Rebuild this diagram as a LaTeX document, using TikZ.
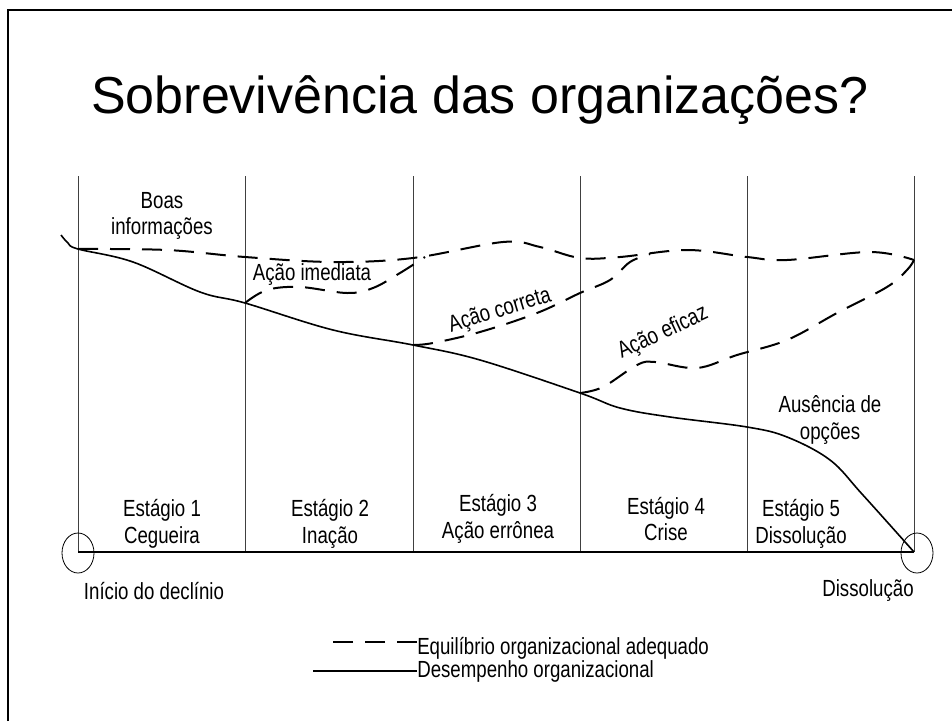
\documentclass[tikz,border=0pt]{standalone}
\usepackage{fontspec}
\setmainfont{Liberation Sans}
\newfontfamily\narrowsans[FakeStretch=0.8]{Liberation Sans}
\usepackage{tikz}
\usetikzlibrary{positioning}
\usetikzlibrary{shapes.geometric}
\usepackage{xcolor}

\begin{document}
\begin{tikzpicture}[x=0.75pt, y=-0.75pt,
    equil/.style={black, line width=1.5pt, dash pattern=on 15pt off 9pt},
    desemp/.style={black, line width=1.2pt},
    rotulo/.style={font=\narrowsans\fontsize{17.5}{20}\selectfont, align=center, inner sep=0pt},
    marco/.style={draw, ellipse, line width=0.6pt, minimum width=24pt, minimum height=30pt, inner sep=0pt}]
	\useasboundingbox (0,0) rectangle (952,721);
	\draw[black, line width=1.5pt] (8,721)--(8,10)--(952,10);
	\node (titulo) at (480,100) {\fontsize{39}{47}\selectfont Sobrevivência das organizações?};
	% estagios
	\foreach \x in {78,245,413,580,747,914}
		\draw[black!75, line width=0.6pt] (\x,176)--(\x,552);
	\node[marco] (inicio) at (78,553) {};
	\node[marco] (fim) at (917,553) {};
	\draw[black, line width=1pt] (78,552)--(914,552);
	\node[rotulo] (e1) at (162,524) {Estágio 1\\Cegueira};
	\node[rotulo] (e2) at (330,524) {Estágio 2\\Inação};
	\node[rotulo] (e3) at (498,519) {Estágio 3\\Ação errônea};
	\node[rotulo] (e4) at (666,519) {Estágio 4\\Crise};
	\node[rotulo] (e5) at (801,524) {Estágio 5\\Dissolução};
	\node[rotulo] (declinio) at (154,591) {Início do declínio};
	\node[rotulo] (dissol) at (868,591) {Dissolução};
	% desempenho
	\draw[desemp] plot[smooth, tension=0.6] coordinates {(61,235) (68,243) (78,249) (133,262) (200,292) (245,303) (333,330) (413,345) (480,360) (580,393) (620,408) (670,417) (747,427) (787,437) (830,460) (862,494) (914,552)};
	\coordinate (p2) at (245,303);
	\coordinate (p3) at (413,345);
	\coordinate (p4) at (580,393);
	% equilibrio
	\draw[equil] plot[smooth, tension=0.6] coordinates {(78,249) (167,250) (245,257) (333,262) (413,258) (503,242) (540,247) (580,258) (620,257) (687,250) (747,257) (787,260) (870,252) (914,260)};
	\draw[equil] plot[smooth, tension=0.6] coordinates {(p2) (267,290) (300,287) (347,293) (373,288) (400,273) (425,257)};
	\draw[equil] plot[smooth, tension=0.6] coordinates {(p3) (433,343) (480,332) (537,313) (580,293) (610,280) (630,262) (650,254)};
	\draw[equil] plot[smooth, tension=0.6] coordinates {(p4) (603,387) (637,365) (655,362) (697,368) (737,355) (787,340) (837,313) (887,287) (907,270) (914,260)};
	\node[rotulo] (boas) at (162,216) {Boas\\informações};
	\node[rotulo] (imediata) at (312,275) {Ação imediata};
	\node[rotulo, rotate=17] (correta) at (500,311) {Ação correta};
	\node[rotulo, rotate=25] (eficaz) at (663,333) {Ação eficaz};
	\node[rotulo] (ausencia) at (830,420) {Ausência de\\opções};
	% legenda
	\node[rotulo, anchor=west] (leg1) at (417,648) {Equilíbrio organizacional adequado};
	\node[rotulo, anchor=west] (leg2) at (417,671) {Desempenho organizacional};
	\draw[equil] ([yshift=4.5pt]leg1.west) -- ++(-85,0);
	\draw[black, line width=1.5pt] (leg2.west) -- ++(-104,0);
\end{tikzpicture}
\end{document}
